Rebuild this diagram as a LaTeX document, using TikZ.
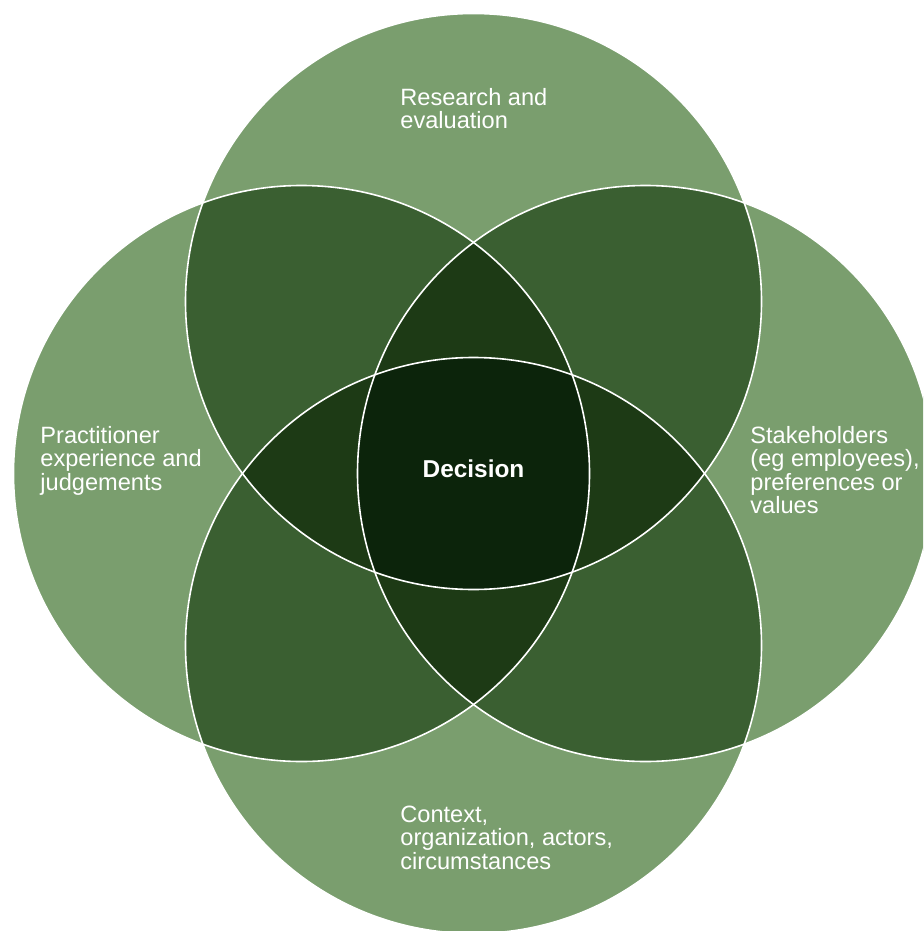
\documentclass[tikz,border=0pt]{standalone}
\usepackage{fontspec}
\setmainfont{Liberation Sans}
\definecolor{gA}{HTML}{7A9E6E}
\definecolor{gB}{HTML}{3A5F31}
\definecolor{gC}{HTML}{1D3A15}
\definecolor{gD}{HTML}{0C240B}
\tikzset{
  lbl/.style={text=white, inner sep=0pt, anchor=base west, align=left,
    font=\fontsize{11.8}{11.75}\selectfont},
  ring/.style={draw=white, line width=0.8pt}
}
\begin{document}
\begin{tikzpicture}[x=0.5pt,y=-0.5pt]
\useasboundingbox (0,0) rectangle (923,931);
\clip (0,0) rectangle (923,931);
\def\R{144pt}
\coordinate (T) at (473.5,301.5);
\coordinate (B) at (473.5,645.5);
\coordinate (L) at (301.5,473.5);
\coordinate (Rr) at (645.5,473.5);
\foreach \a in {T,B,L,Rr} {\fill[gA] (\a) circle[radius=\R];}
\foreach \a/\b in {T/L,T/Rr,B/L,B/Rr,T/B,L/Rr} {
  \begin{scope}\clip (\a) circle[radius=\R]; \fill[gB] (\b) circle[radius=\R];\end{scope}}
\foreach \a/\b/\c in {T/L/Rr,B/L/Rr,T/B/L,T/B/Rr} {
  \begin{scope}\clip (\a) circle[radius=\R]; \clip (\b) circle[radius=\R]; \fill[gC] (\c) circle[radius=\R];\end{scope}}
\begin{scope}\clip (T) circle[radius=\R]; \clip (B) circle[radius=\R]; \clip (L) circle[radius=\R]; \fill[gD] (Rr) circle[radius=\R];\end{scope}
\foreach \a in {T,B,L,Rr} {\draw[ring] (\a) circle[radius=\R];}
\node[lbl] (research) at (400,128.5) {Research and\\evaluation};
\node[lbl] (practitioner) at (40,490) {Practitioner\\experience and\\judgements};
\node[lbl] (stakeholders) at (750,513.5) {Stakeholders\\(eg employees),\\preferences or\\values};
\node[lbl] (context) at (400,869) {Context,\\organization, actors,\\circumstances};
\node[text=white, inner sep=0pt, anchor=base, font=\fontsize{12.2}{13}\selectfont\bfseries] (decision) at (473.5,477) {Decision};
\end{tikzpicture}
\end{document}
